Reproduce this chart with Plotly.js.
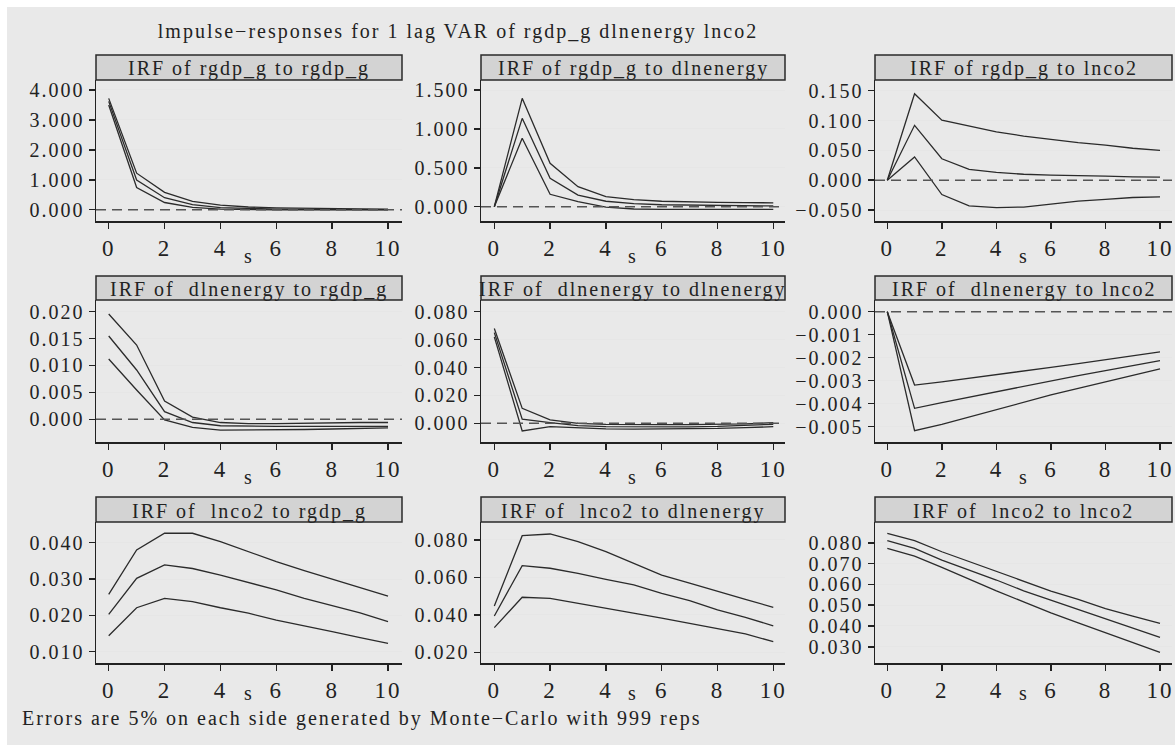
<!DOCTYPE html>
<html>
<head>
<meta charset="utf-8">
<script src="https://cdn.plot.ly/plotly-3.0.1.min.js"></script>
<style>
html,body{margin:0;padding:0;background:#ffffff;}
text{letter-spacing:2px;}
</style>
</head>
<body>
<div id="chart" style="width:1175px;height:745px;"></div>
<script>
// ---------------- DATA ----------------
const steps = [0,1,2,3,4,5,6,7,8,9,10];

const mainTitle = "lmpulse\u2212responses for 1 lag VAR of rgdp_g dlnenergy lnco2";
const footNote = "Errors are 5% on each side generated by Monte\u2212Carlo with 999 reps";
const xAxisLabel = "s";

const panelTitles = [
  "IRF of rgdp_g to rgdp_g",
  "IRF of rgdp_g to dlnenergy",
  "IRF of rgdp_g to lnco2",
  "IRF of  dlnenergy to rgdp_g",
  "IRF of  dlnenergy to dlnenergy",
  "IRF of  dlnenergy to lnco2",
  "IRF of  lnco2 to rgdp_g",
  "IRF of  lnco2 to dlnenergy",
  "IRF of  lnco2 to lnco2"
];

// rgdp_g -> rgdp_g
const hi_rgdp_rgdp  = [3.72, 1.22, 0.58, 0.28, 0.15, 0.09, 0.06, 0.04, 0.03, 0.025, 0.02];
const irf_rgdp_rgdp = [3.62, 0.99, 0.40, 0.17, 0.07, 0.035, 0.02, 0.012, 0.008, 0.005, 0.004];
const lo_rgdp_rgdp  = [3.50, 0.74, 0.24, 0.08, 0.02, 0.0, -0.005, -0.005, -0.005, -0.005, -0.005];

// rgdp_g -> dlnenergy
const hi_rgdp_energy  = [0, 1.393, 0.558, 0.257, 0.129, 0.09, 0.07, 0.06, 0.055, 0.052, 0.05];
const irf_rgdp_energy = [0, 1.136, 0.365, 0.150, 0.070, 0.04, 0.025, 0.02, 0.015, 0.012, 0.01];
const lo_rgdp_energy  = [0, 0.879, 0.159, 0.064, -0.005, -0.03, -0.035, -0.035, -0.035, -0.035, -0.035];

// rgdp_g -> lnco2
const hi_rgdp_co2  = [0, 0.145, 0.1006, 0.0905, 0.081, 0.074, 0.068, 0.063, 0.0587, 0.0536, 0.050];
const irf_rgdp_co2 = [0, 0.092, 0.036, 0.018, 0.013, 0.010, 0.0084, 0.007, 0.0067, 0.0056, 0.005];
const lo_rgdp_co2  = [0, 0.039, -0.024, -0.043, -0.046, -0.045, -0.040, -0.035, -0.032, -0.029, -0.028];

// dlnenergy -> rgdp_g
const hi_energy_rgdp  = [0.01957, 0.0138, 0.0034, 0.0004, -0.0006, -0.0008, -0.0008, -0.0007, -0.0007, -0.0006, -0.0006];
const irf_energy_rgdp = [0.01548, 0.00916, 0.00142, -0.0006, -0.0012, -0.0013, -0.0013, -0.0013, -0.0013, -0.0013, -0.0013];
const lo_energy_rgdp  = [0.01121, 0.00545, -0.0001, -0.0015, -0.0020, -0.0020, -0.0020, -0.0019, -0.0018, -0.0017, -0.0016];

// dlnenergy -> dlnenergy
const hi_energy_energy  = [0.068, 0.0107, 0.0024, 0.0, -0.0007, -0.001, -0.001, -0.001, -0.0008, -0.0004, 0.0005];
const irf_energy_energy = [0.065, 0.0029, 0.0005, -0.0017, -0.0024, -0.0025, -0.0025, -0.0025, -0.0022, -0.0016, -0.0007];
const lo_energy_energy  = [0.062, -0.0055, -0.0024, -0.0031, -0.0040, -0.0041, -0.0041, -0.0040, -0.0037, -0.0031, -0.0024];

// dlnenergy -> lnco2
const hi_energy_co2  = [0, -0.00319, -0.00305, -0.00290, -0.00274, -0.00258, -0.00242, -0.00226, -0.00209, -0.00192, -0.00175];
const irf_energy_co2 = [0, -0.00420, -0.00395, -0.00371, -0.00347, -0.00323, -0.00300, -0.00278, -0.00256, -0.00234, -0.00213];
const lo_energy_co2  = [0, -0.00517, -0.00490, -0.00458, -0.00425, -0.00393, -0.00362, -0.00333, -0.00304, -0.00276, -0.00249];

// lnco2 -> rgdp_g
const hi_co2_rgdp  = [0.0258, 0.0380, 0.0426, 0.0426, 0.0403, 0.0375, 0.0348, 0.0323, 0.0299, 0.0276, 0.0253];
const irf_co2_rgdp = [0.0203, 0.0302, 0.0339, 0.0329, 0.0311, 0.0291, 0.0270, 0.0247, 0.0226, 0.0207, 0.0183];
const lo_co2_rgdp  = [0.0144, 0.0221, 0.0247, 0.0238, 0.0221, 0.0206, 0.0187, 0.0172, 0.0155, 0.0139, 0.0123];

// lnco2 -> dlnenergy
const hi_co2_energy  = [0.0447, 0.0823, 0.0832, 0.0791, 0.0738, 0.0675, 0.0612, 0.0569, 0.0524, 0.0483, 0.0440];
const irf_co2_energy = [0.0394, 0.0663, 0.0649, 0.0622, 0.0590, 0.0560, 0.0515, 0.0476, 0.0426, 0.0387, 0.0341];
const lo_co2_energy  = [0.0332, 0.0494, 0.0488, 0.0462, 0.0435, 0.0412, 0.0382, 0.0355, 0.0328, 0.0298, 0.0257];

// lnco2 -> lnco2
const hi_co2_co2  = [0.0845, 0.0810, 0.0757, 0.0709, 0.0661, 0.0613, 0.0568, 0.0528, 0.0484, 0.0447, 0.0412];
const irf_co2_co2 = [0.0810, 0.0773, 0.0717, 0.0669, 0.0621, 0.0569, 0.0524, 0.0480, 0.0436, 0.0391, 0.0345];
const lo_co2_co2  = [0.0773, 0.0736, 0.0682, 0.0624, 0.0569, 0.0516, 0.0463, 0.0415, 0.0367, 0.0319, 0.0273];

// tick values
const xTickVals = [0,2,4,6,8,10];
const yTicks_rgdp_rgdp     = [0,1,2,3,4];
const yTicks_rgdp_energy   = [0,0.5,1,1.5];
const yTicks_rgdp_co2      = [-0.05,0,0.05,0.1,0.15];
const yTicks_energy_rgdp   = [0,0.005,0.01,0.015,0.02];
const yTicks_energy_energy = [0,0.02,0.04,0.06,0.08];
const yTicks_energy_co2    = [-0.005,-0.004,-0.003,-0.002,-0.001,0];
const yTicks_co2_rgdp      = [0.01,0.02,0.03,0.04];
const yTicks_co2_energy    = [0.02,0.04,0.06,0.08];
const yTicks_co2_co2       = [0.03,0.04,0.05,0.06,0.07,0.08];

// ---------------- LAYOUT / STYLE ----------------
const W = 1175, H = 745;
const FONT = 'Liberation Serif';
const lineColor = '#2b2b2b';

const panels = [
  {lo: lo_rgdp_rgdp, irf: irf_rgdp_rgdp, hi: hi_rgdp_rgdp, ticks: yTicks_rgdp_rgdp, yr: [-0.378, 4.334], zero: true},
  {lo: lo_rgdp_energy, irf: irf_rgdp_energy, hi: hi_rgdp_energy, ticks: yTicks_rgdp_energy, yr: [-0.184, 1.629], zero: true},
  {lo: lo_rgdp_co2, irf: irf_rgdp_co2, hi: hi_rgdp_co2, ticks: yTicks_rgdp_co2, yr: [-0.0684, 0.168], zero: true},
  {lo: lo_energy_rgdp, irf: irf_energy_rgdp, hi: hi_energy_rgdp, ticks: yTicks_energy_rgdp, yr: [-0.00422, 0.02217], zero: true},
  {lo: lo_energy_energy, irf: irf_energy_energy, hi: hi_energy_energy, ticks: yTicks_energy_energy, yr: [-0.0134, 0.0884], zero: true},
  {lo: lo_energy_co2, irf: irf_energy_co2, hi: hi_energy_co2, ticks: yTicks_energy_co2, yr: [-0.005665, 0.000509], zero: true},
  {lo: lo_co2_rgdp, irf: irf_co2_rgdp, hi: hi_co2_rgdp, ticks: yTicks_co2_rgdp, yr: [0.00689, 0.0457], zero: false},
  {lo: lo_co2_energy, irf: irf_co2_energy, hi: hi_co2_energy, ticks: yTicks_co2_energy, yr: [0.01428, 0.0896], zero: false},
  {lo: lo_co2_co2, irf: irf_co2_co2, hi: hi_co2_co2, ticks: yTicks_co2_co2, yr: [0.0222, 0.0900], zero: false}
];

// pixel geometry of columns / rows
const cols = [
  {x0: 96, x1: 402, xr: [-0.455, 10.50]},
  {x0: 481, x1: 785, xr: [-0.477, 10.42]},
  {x0: 875, x1: 1172, xr: [-0.451, 10.44]}
];
const rows = [
  {top: 80, bot: 221, sTop: 55, sY: 256},
  {top: 300, bot: 442, sTop: 276, sY: 477},
  {top: 522, bot: 663, sTop: 497, sY: 693}
];

const traces = [];
const layout = {
  width: W, height: H,
  margin: {l: 0, r: 0, t: 0, b: 0},
  paper_bgcolor: '#ffffff',
  plot_bgcolor: '#ffffff',
  showlegend: false,
  font: {family: FONT, size: 20, color: '#222222'},
  title: {
    text: mainTitle,
    font: {family: FONT, size: 20, color: '#222222'},
    x: 458 / W, xanchor: 'center', xref: 'paper',
    y: 1 - 31 / H, yanchor: 'middle', yref: 'container'
  },
  shapes: [
    {type: 'rect', xref: 'paper', yref: 'paper', x0: 7 / W, x1: 1, y0: 0, y1: 1 - 7 / H,
     fillcolor: '#e9e9e9', line: {width: 0}, layer: 'below'}
  ],
  annotations: [
    {text: footNote, xref: 'paper', yref: 'paper', x: 20 / W, y: 1 - 718 / H,
     xanchor: 'left', yanchor: 'middle', showarrow: false,
     font: {family: FONT, size: 20, color: '#222222'}}
  ]
};

panels.forEach((p, i) => {
  const c = cols[i % 3], r = rows[Math.floor(i / 3)];
  const n = i === 0 ? '' : String(i + 1);
  const xa = 'x' + n, ya = 'y' + n;
  [p.lo, p.irf, p.hi].forEach(arr => {
    traces.push({
      type: 'scatter', mode: 'lines', x: steps, y: arr,
      xaxis: xa, yaxis: ya,
      line: {color: lineColor, width: 1.3},
      hoverinfo: 'x+y'
    });
  });
  const plotH = r.bot - r.top;
  layout['xaxis' + n] = {
    domain: [c.x0 / W, c.x1 / W],
    anchor: ya,
    range: c.xr,
    tickvals: xTickVals,
    ticks: 'outside', ticklen: 6, tickwidth: 1.5, tickcolor: '#222',
    ticklabelstandoff: 0,
    showline: true, linecolor: '#222', linewidth: 1.5,
    showgrid: false, zeroline: false,
    tickfont: {family: FONT, size: 23, color: '#222'}
  };
  layout['yaxis' + n] = {
    domain: [1 - r.bot / H, 1 - r.top / H],
    anchor: xa,
    range: p.yr,
    tickvals: p.ticks,
    tickformat: '.3f',
    ticks: 'outside', ticklen: 6, tickwidth: 1.5, tickcolor: '#222',
    showline: true, linecolor: '#222', linewidth: 1.5,
    showgrid: true, gridcolor: '#e6e6e6', gridwidth: 1,
    zeroline: false,
    tickfont: {family: FONT, size: 20, color: '#222'}
  };
  // strip header
  layout.shapes.push({
    type: 'rect', xref: xa + ' domain', yref: ya + ' domain',
    x0: 0, x1: 1, y0: 1, y1: 1 + (r.top - r.sTop) / plotH,
    fillcolor: '#d3d3d3', line: {color: '#2a2a2a', width: 1.5}, layer: 'above'
  });
  layout.annotations.push({
    text: panelTitles[i], xref: xa + ' domain', yref: ya + ' domain',
    x: 0.5, y: 1 + ((r.top - r.sTop) / 2 - 1.5) / plotH, xanchor: 'center', yanchor: 'middle',
    showarrow: false, font: {family: FONT, size: 20, color: '#222'}
  });
  // zero reference line
  if (p.zero) {
    layout.shapes.push({
      type: 'line', xref: xa + ' domain', yref: ya, x0: 0, x1: 1, y0: 0, y1: 0,
      line: {color: '#555555', width: 1.4, dash: '10px,6px'}, layer: 'above'
    });
  }
  // x axis label "s"
  layout.annotations.push({
    text: xAxisLabel, xref: 'paper', yref: 'paper',
    x: (c.x0 + c.x1) / 2 / W, y: 1 - r.sY / H, xanchor: 'center', yanchor: 'middle',
    showarrow: false, font: {family: FONT, size: 20, color: '#222'}
  });
});

Plotly.newPlot('chart', traces, layout, {staticPlot: true, displayModeBar: false});
</script>
</body>
</html>
